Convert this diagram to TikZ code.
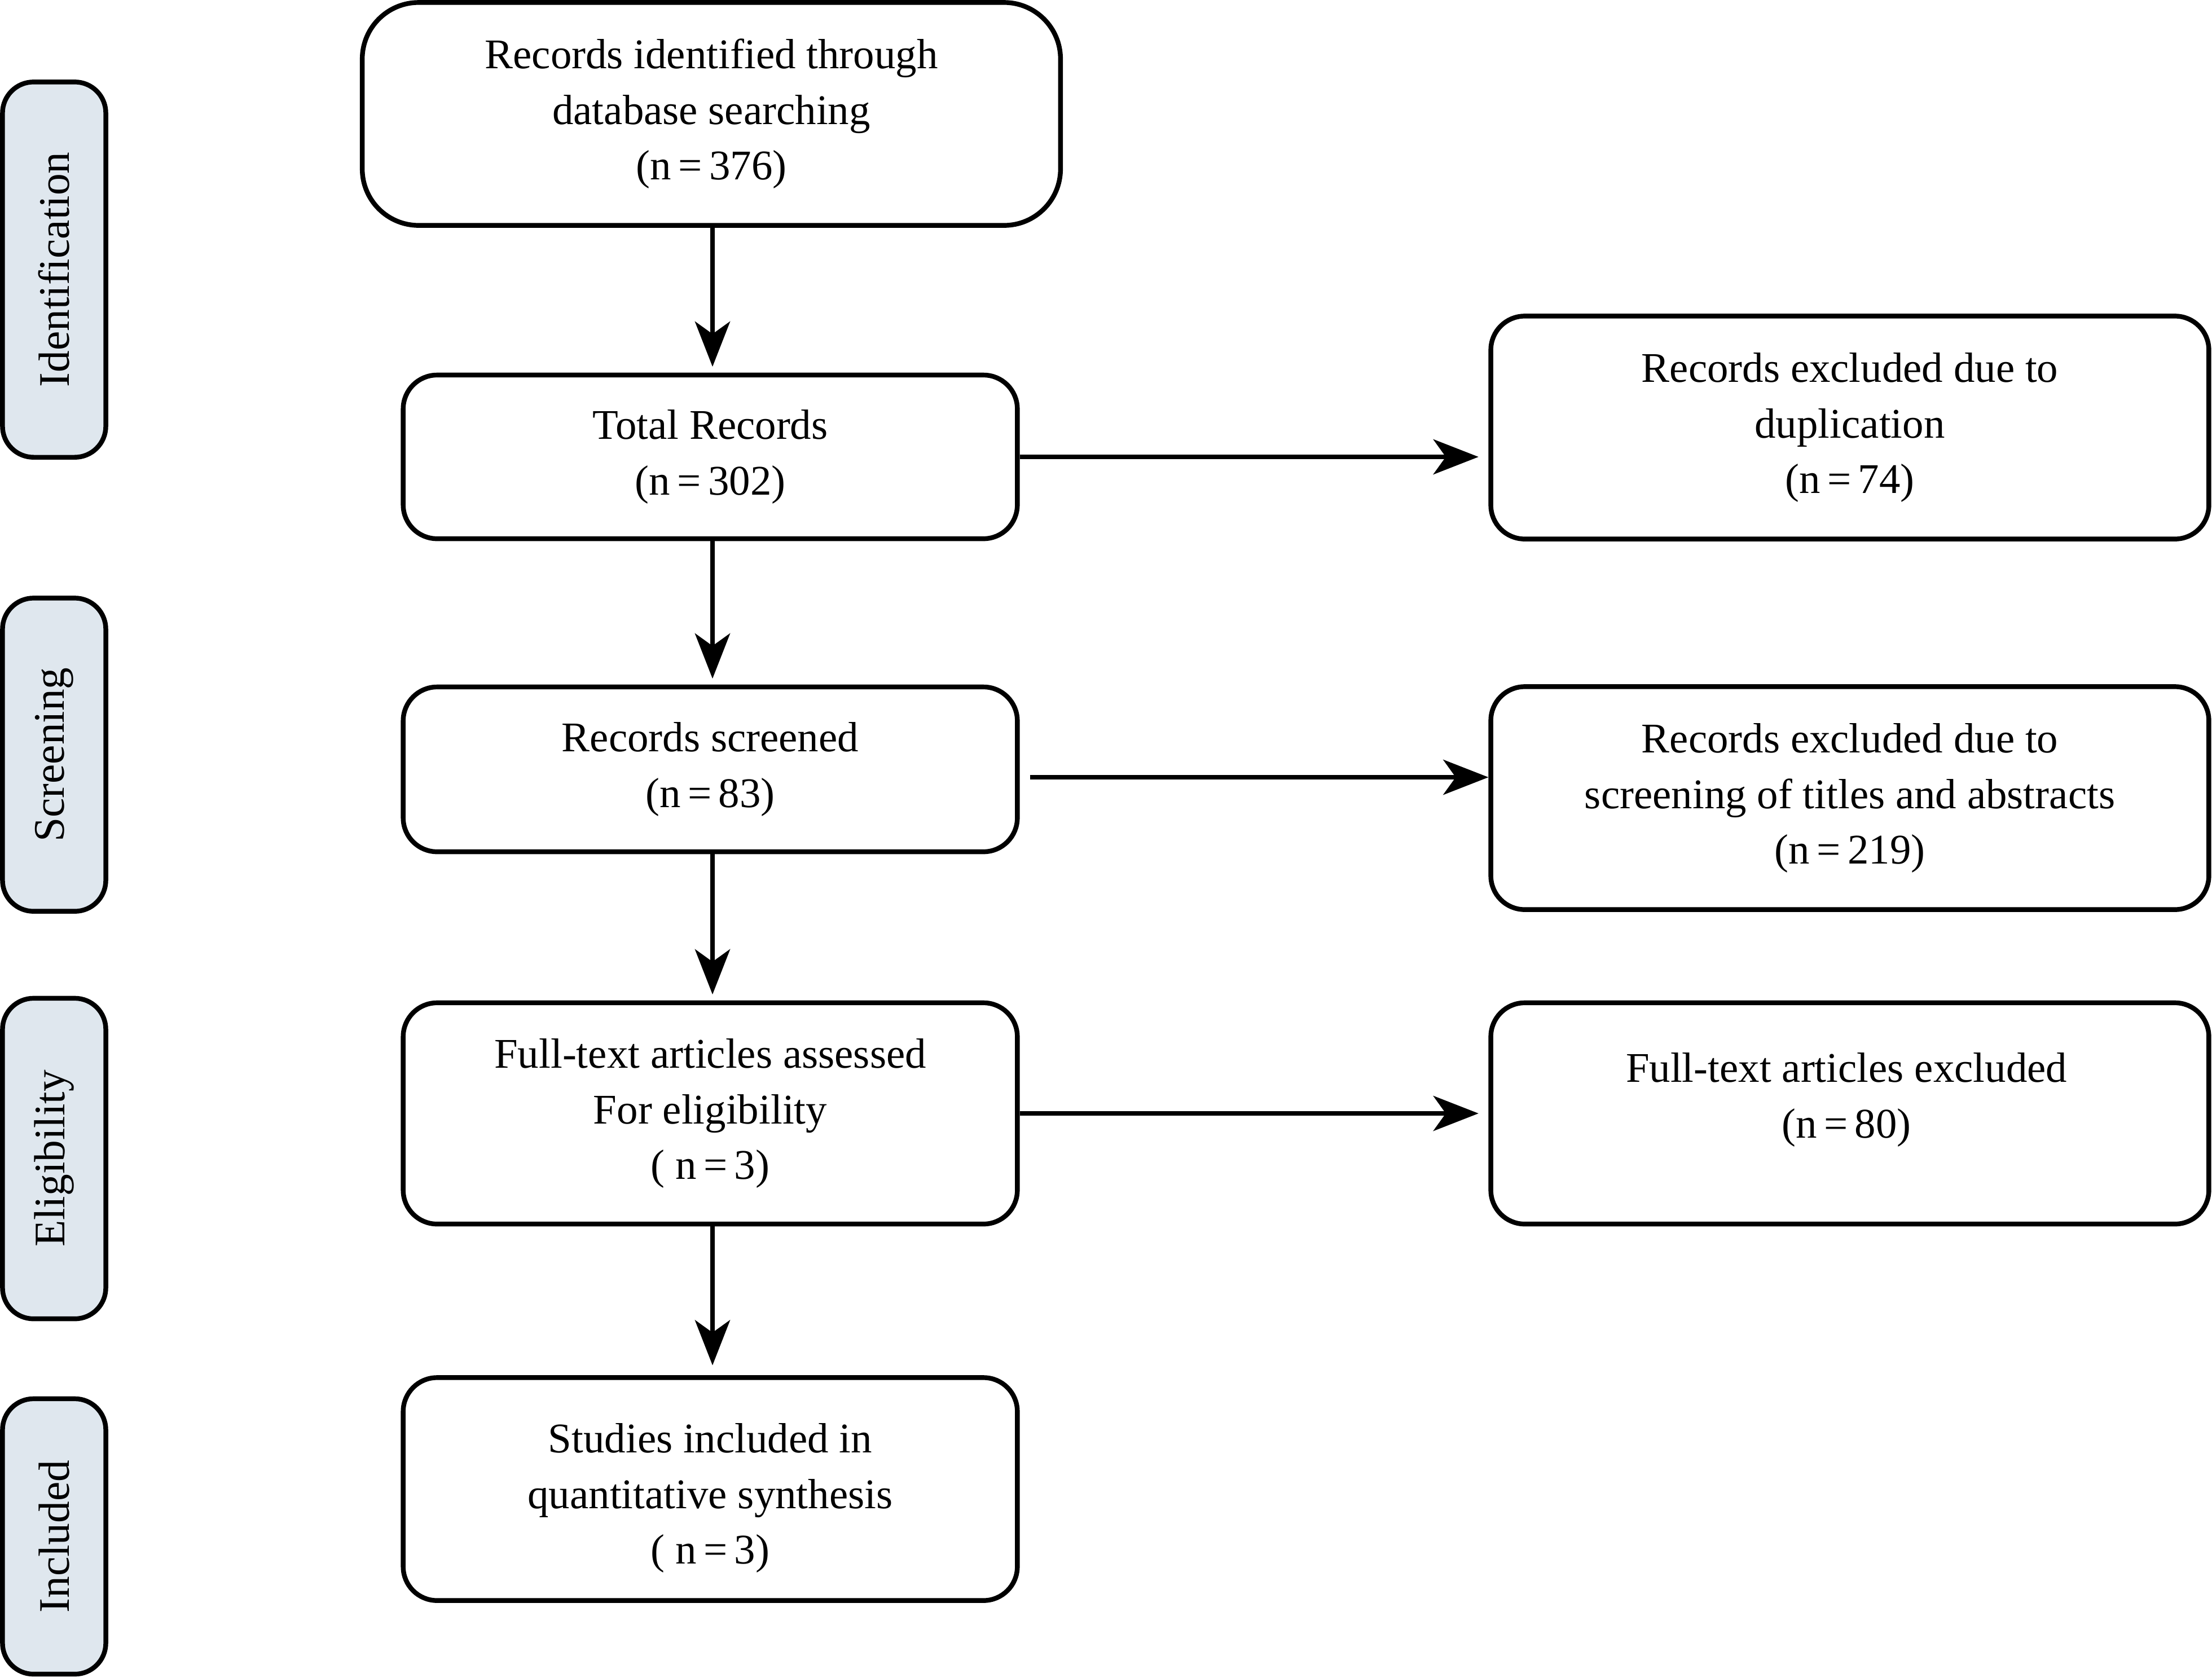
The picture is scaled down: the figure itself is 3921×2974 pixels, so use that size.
\documentclass[tikz,border=0pt]{standalone}
\usepackage{fontspec}
\setmainfont{Liberation Serif}
\usetikzlibrary{arrows.meta}
\definecolor{sidefill}{RGB}{223,231,238}
\newcommand{\nn}[1]{n\,=\,#1}
\tikzset{
  box/.style={draw=black, line width=2.4pt, rounded corners=0.6cm, align=center,
    inner sep=0pt, font=\fontsize{21.3}{28}\selectfont},
  boxtext/.style={align=center, inner sep=0pt, font=\fontsize{21.3}{28}\selectfont},
  sidebox/.style={draw=black, line width=2.4pt, fill=sidefill, rounded corners=0.55cm,
    inner sep=0pt, minimum width=1.83cm},
  sidetext/.style={rotate=90, font=\fontsize{22}{26}\selectfont, inner sep=0pt},
  flow/.style={line width=2.4pt, -{Stealth[length=0.8cm, width=0.62cm, inset=0.22cm]}}
}
\begin{document}
\begin{tikzpicture}[x=0.01cm, y=-0.01cm]
\useasboundingbox (0,0) rectangle (3921,2974);
% side labels
\node[sidebox, minimum height=6.65cm] (sid) at (96,478) {};
\node[sidetext] (sidt) at (sid.center) {Identification};
\node[sidebox, minimum height=5.55cm] (sscr) at (96,1338) {};
\node[sidetext] (sscrt) at (sscr.center) {Screening};
\node[sidebox, minimum height=5.68cm] (selig) at (96,2054) {};
\node[sidetext] (seligt) at (selig.center) {Eligibility};
\node[sidebox, minimum height=4.88cm] (sinc) at (96,2724) {};
\node[sidetext] (sinct) at (sinc.center) {Included};
% main column
\node[box, rounded corners=1cm, minimum width=12.37cm, minimum height=3.95cm] (top) at (1261,202)
  {Records identified through\\database searching\\(\nn{376})};
\node[box, minimum width=10.88cm, minimum height=2.90cm] (total) at (1259,810)
  {Total Records\\(\nn{302})};
\node[box, minimum width=10.88cm, minimum height=2.92cm] (scr) at (1259,1364)
  {Records screened\\(\nn{83})};
\node[box, minimum width=10.88cm, minimum height=3.92cm] (ass) at (1259,1974)
  {Full-text articles assessed\\For eligibility\\( \nn{3})};
\node[box, minimum width=10.88cm, minimum height=3.95cm] (inc) at (1259,2640) {};
\node[boxtext] (inct) at (1259,2656) {Studies included in\\quantitative synthesis\\( \nn{3})};
% right column
\node[box, minimum width=12.72cm, minimum height=3.95cm] (dup) at (3279,758)
  {Records excluded due to\\duplication\\(\nn{74})};
\node[box, minimum width=12.72cm, minimum height=3.95cm] (scrx) at (3279,1415)
  {Records excluded due to\\screening of titles and abstracts\\(\nn{219})};
\node[box, minimum width=12.72cm, minimum height=3.92cm] (ftx) at (3279,1974) {};
\node[boxtext] (ftxt) at (3273,1950) {Full-text articles excluded\\(\nn{80})};
% connectors
\draw[flow, shorten >=3pt] (top.south -| 1263,0) -- (total.north -| 1263,0);
\draw[flow, shorten >=3pt] (total.south -| 1263,0) -- (scr.north -| 1263,0);
\draw[flow, shorten >=3pt] (scr.south -| 1263,0) -- (ass.north -| 1263,0);
\draw[flow, shorten >=5pt] (ass.south -| 1263,0) -- (inc.north -| 1263,0);
\draw[flow, shorten >=5pt] (total.east) -- (total.east -| dup.west);
\coordinate (s1) at ([shift={(18,14)}]scr.east);
\draw[flow, shorten >=0pt] (s1) -- (s1 -| scrx.west);
\draw[flow, shorten >=5pt] (ass.east) -- (ass.east -| ftx.west);
\end{tikzpicture}
\end{document}
